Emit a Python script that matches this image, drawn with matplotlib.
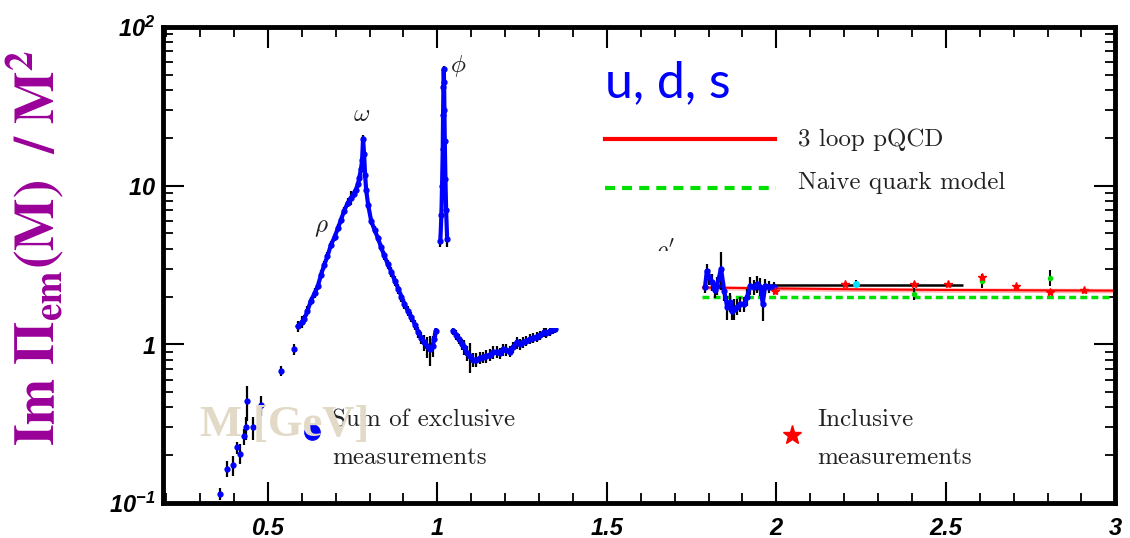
import numpy as np
import matplotlib
matplotlib.use("Agg")
import matplotlib.pyplot as plt
from matplotlib.ticker import MultipleLocator, LogLocator, FixedLocator, FixedFormatter, NullFormatter
from matplotlib.patches import Rectangle

plt.rcParams['mathtext.fontset'] = 'custom'
plt.rcParams['mathtext.rm'] = 'Liberation Sans:italic:bold'
plt.rcParams['mathtext.it'] = 'Liberation Sans:italic:bold'
plt.rcParams['mathtext.bf'] = 'Liberation Sans:italic:bold'

low_x = [0.358, 0.379, 0.396, 0.408, 0.417, 0.429, 0.435, 0.438, 0.456, 0.479, 0.538, 0.577]
low_y = [0.114, 0.165, 0.174, 0.224, 0.205, 0.263, 0.30, 0.44, 0.30, 0.415, 0.68, 0.93]
low_e = [0.01, 0.02, 0.025, 0.02, 0.03, 0.03, 0.05, 0.11, 0.05, 0.06, 0.05, 0.07]

rho_x = [0.589, 0.600, 0.607, 0.617, 0.627, 0.638, 0.648, 0.657, 0.666, 0.676,
         0.686, 0.697, 0.707, 0.716, 0.725, 0.736, 0.746, 0.753, 0.760, 0.766,
         0.770, 0.775, 0.778, 0.781, 0.784, 0.787, 0.790, 0.796, 0.805, 0.815,
         0.825, 0.834, 0.843, 0.854, 0.864, 0.875, 0.885, 0.894, 0.903, 0.913,
         0.923, 0.934, 0.944, 0.953, 0.962, 0.971, 0.979, 0.986, 0.991, 0.996]
rho_y = [1.30, 1.38, 1.44, 1.62, 1.88, 2.10, 2.34, 2.75, 3.14, 3.60,
         4.21, 4.75, 5.4, 6.1, 6.93, 7.8, 8.4, 8.9, 9.45, 10.2,
         11.2, 12.8, 14.4, 19.8, 15.8, 11.7, 9.45, 7.55, 5.98, 5.25,
         4.66, 4.1, 3.64, 3.2, 2.87, 2.5, 2.24, 2.0, 1.80, 1.62,
         1.49, 1.33, 1.19, 1.10, 1.03, 0.97, 0.93, 0.98, 1.08, 1.22]
rho_e = [0.10, 0.12, 0.10, 0.12, 0.12, 0.15, 0.15, 0.18, 0.2, 0.2,
         0.25, 0.3, 0.3, 0.35, 0.4, 0.5, 0.9, 0.5, 0.5, 0.5,
         0.6, 0.6, 0.8, 1.0, 0.8, 0.6, 0.5, 0.4, 0.3, 0.3,
         0.25, 0.25, 0.25, 0.2, 0.2, 0.18, 0.15, 0.15, 0.12, 0.12,
         0.1, 0.1, 0.1, 0.1, 0.12, 0.15, 0.2, 0.15, 0.1, 0.1]

phi_x = [1.009, 1.012, 1.014, 1.016, 1.017, 1.018, 1.019, 1.020, 1.021, 1.022, 1.024, 1.026, 1.029]
phi_y = [4.5, 6.5, 10, 17, 28, 42, 54, 45, 30, 19, 11, 7, 4.6]
phi_e = [0.4, 0.5, 0.8, 1.2, 2.0, 3.0, 3.0, 3.0, 2.0, 1.5, 0.9, 0.6, 0.5]

mid_x = [1.047, 1.056, 1.065, 1.072, 1.080, 1.088, 1.095, 1.105, 1.115, 1.125,
         1.136, 1.145, 1.154, 1.165, 1.175, 1.185, 1.195, 1.204, 1.213, 1.224,
         1.234, 1.244, 1.254, 1.263, 1.272, 1.283, 1.293, 1.304, 1.314, 1.322,
         1.331, 1.340, 1.346]
mid_y = [1.22, 1.15, 1.08, 1.00, 0.96, 0.88, 0.84, 0.80, 0.80, 0.82,
         0.83, 0.84, 0.86, 0.89, 0.90, 0.88, 0.93, 0.92, 0.90, 0.96,
         1.03, 1.00, 1.03, 1.05, 1.08, 1.10, 1.12, 1.14, 1.19, 1.18,
         1.21, 1.24, 1.25]
mid_e = [0.08, 0.08, 0.08, 0.08, 0.1, 0.1, 0.18, 0.08, 0.08, 0.07,
         0.07, 0.08, 0.07, 0.08, 0.08, 0.07, 0.08, 0.08, 0.07, 0.08,
         0.09, 0.08, 0.08, 0.08, 0.08, 0.08, 0.08, 0.08, 0.08, 0.08,
         0.08, 0.08, 0.08]

high_x = [1.790, 1.795, 1.802, 1.810, 1.818, 1.825, 1.837, 1.846, 1.855, 1.864,
          1.870, 1.876, 1.885, 1.893, 1.905, 1.914, 1.923, 1.935, 1.944, 1.953,
          1.960, 1.967, 1.978, 1.993]
high_y = [2.31, 2.9, 2.67, 2.48, 2.2, 2.34, 3.0, 2.18, 1.72, 1.85,
          1.62, 1.67, 1.72, 1.80, 1.80, 1.99, 2.34, 2.31, 2.41, 2.31,
          1.80, 2.34, 2.31, 2.31]
high_e = [0.2, 0.3, 0.3, 0.3, 0.25, 0.3, 0.8, 0.3, 0.3, 0.25,
          0.2, 0.25, 0.2, 0.2, 0.2, 0.25, 0.3, 0.25, 0.3, 0.3,
          0.4, 0.25, 0.2, 0.15]

# Inclusive measurements
incl_x = [1.995, 2.204, 2.405, 2.506, 2.607, 2.707, 2.808, 2.908]
incl_y = [2.17, 2.41, 2.41, 2.41, 2.67, 2.34, 2.14, 2.21]
green_x = [2.405, 2.607, 2.808]
green_y = [2.08, 2.52, 2.63]
green_e = [0.18, 0.25, 0.3]
cyan_x = [2.234]
cyan_y = [2.41]
cyan_e = [0.12]
wide_x, wide_xe, wide_y = 2.26, 0.29, 2.37

# theory curves
pq_x = [1.78, 2.0, 2.25, 2.5, 2.75, 3.0]
pq_y = [2.28, 2.25, 2.22, 2.20, 2.19, 2.18]
pq_w = [0.07, 0.07, 0.07, 0.07, 0.07, 0.07]
naive_x = [1.78, 3.0]
naive_y = [2.0, 2.0]

fig = plt.figure(figsize=(11.3, 5.38), dpi=100)
ax = fig.add_axes([0.144, 0.065, 0.843, 0.885])
ax.set_yscale('log')
ax.set_xlim(0.19, 3.0)
ax.set_ylim(0.1, 100)

ebkw = dict(color='blue', ms=3.5, ecolor='black', elinewidth=1.6, capsize=0)
ax.errorbar(low_x, low_y, yerr=low_e, fmt='o', **ebkw)
for sx, sy, se in [(rho_x, rho_y, rho_e), (phi_x, phi_y, phi_e),
                   (mid_x, mid_y, mid_e), (high_x, high_y, high_e)]:
    ax.errorbar(sx, sy, yerr=se, fmt='o-', lw=3, **ebkw)

# theory
lo = np.array(pq_y) - np.array(pq_w)
hi = np.array(pq_y) + np.array(pq_w)
ax.fill_between(pq_x, lo, hi, color='#ffb0b0', lw=0, zorder=1.5)
ax.plot(pq_x, pq_y, color='red', lw=1.5, zorder=1.6)
ax.plot(naive_x, naive_y, color='#00e000', lw=2.5, dashes=(2, 1.2), zorder=1.7)

# inclusive
ax.errorbar([wide_x], [wide_y], xerr=[wide_xe], fmt='none', ecolor='black', elinewidth=1.8, zorder=2)
ax.errorbar(green_x, green_y, yerr=green_e, fmt='o', color='#00dd00', ms=3, ecolor='black', elinewidth=1.5)
ax.errorbar(cyan_x, cyan_y, yerr=cyan_e, fmt='o', color='#00e5ff', ms=4, ecolor='black', elinewidth=1.5)
ax.plot(incl_x, incl_y, '*', color='red', ms=6, ls='none', zorder=3)

# region masked in the original figure
ax.add_patch(Rectangle((0.985, 1.26), 1.78 - 0.985, 3.9 - 1.26, facecolor='white',
                       edgecolor='none', zorder=4))

# resonance names
gk = dict(fontsize=18, color='#222222', math_fontfamily='cm', ha='center', va='center')
ax.text(0.778, 28.3, r'$\omega$', **gk)
ax.text(0.657, 5.5, r'$\rho$', **gk)
ax.text(1.062, 56.5, r'$\phi$', **gk)
ax.text(1.672, 4.7, r"$\rho'$", fontsize=18, color='#222222', math_fontfamily='cm',
        ha='center', va='top', zorder=3)

# legend drawn by hand
ax.text(0.464, 0.853, 'u, d, s', transform=ax.transAxes, fontsize=36, color='blue',
        family='Lato', va='baseline', ha='left')
ax.plot([0.464, 0.643], [0.765, 0.765], transform=ax.transAxes, color='red', lw=3)
ax.plot([0.464, 0.644], [0.662, 0.662], transform=ax.transAxes, color='#00e000', lw=3,
        dashes=(2.4, 1.7))
lt = dict(transform=ax.transAxes, fontsize=18, family='cmr10', color='#222222',
          ha='left', va='center')
ax.text(0.667, 0.763, '3 loop pQCD', **lt)
ax.text(0.667, 0.672, 'Naive quark model', **lt)
ax.text(0.178, 0.174, 'Sum of exclusive', **lt)
ax.text(0.178, 0.095, 'measurements', **lt)
ax.text(0.687, 0.174, 'Inclusive', **lt)
ax.text(0.687, 0.095, 'measurements', **lt)
ax.plot([0.157], [0.149], 'o', color='blue', ms=11, transform=ax.transAxes)
ax.plot([0.661], [0.143], '*', color='red', ms=14, transform=ax.transAxes)
ax.text(0.039, 0.164, 'M [GeV]', transform=ax.transAxes, fontsize=32, family='Liberation Serif',
        weight='bold', color='#e2d9c6', ha='left', va='center', zorder=5)

# axes styling
for s in ax.spines.values():
    s.set_linewidth(3.5)
ax.xaxis.set_major_locator(FixedLocator([0.5, 1.0, 1.5, 2.0, 2.5, 3.0]))
ax.xaxis.set_major_formatter(FixedFormatter(['0.5', '1', '1.5', '2', '2.5', '3']))
ax.xaxis.set_minor_locator(MultipleLocator(0.1))
ax.yaxis.set_major_locator(FixedLocator([0.1, 1, 10, 100]))
ax.yaxis.set_major_formatter(FixedFormatter([r'$10^{-1}$', r'$1\ \ $', r'$10\ \ $', r'$10^{2}$']))
ax.yaxis.set_minor_locator(LogLocator(base=10, subs=np.arange(2, 10)))
ax.yaxis.set_minor_formatter(NullFormatter())
ax.tick_params(which='both', direction='in', top=True, right=True)
ax.tick_params(which='major', length=15, width=1.5)
ax.tick_params(which='minor', length=7, width=1.3)
ax.tick_params(axis='x', which='major', pad=10)
ax.tick_params(axis='y', which='major', pad=5)
for t in ax.get_xticklabels():
    t.set_fontfamily('Liberation Sans')
    t.set_fontweight('bold')
    t.set_fontstyle('italic')
    t.set_fontsize(17)
for t in ax.get_yticklabels():
    t.set_fontsize(17)

fig.text(0.031, 0.539, r'$\mathbf{Im\ \Pi_{em}(M)\ \ /\ M^2}$', rotation=90, fontsize=40,
         color='#990099', math_fontfamily='stix', ha='center', va='center')

fig.savefig('out.png', dpi=100)
